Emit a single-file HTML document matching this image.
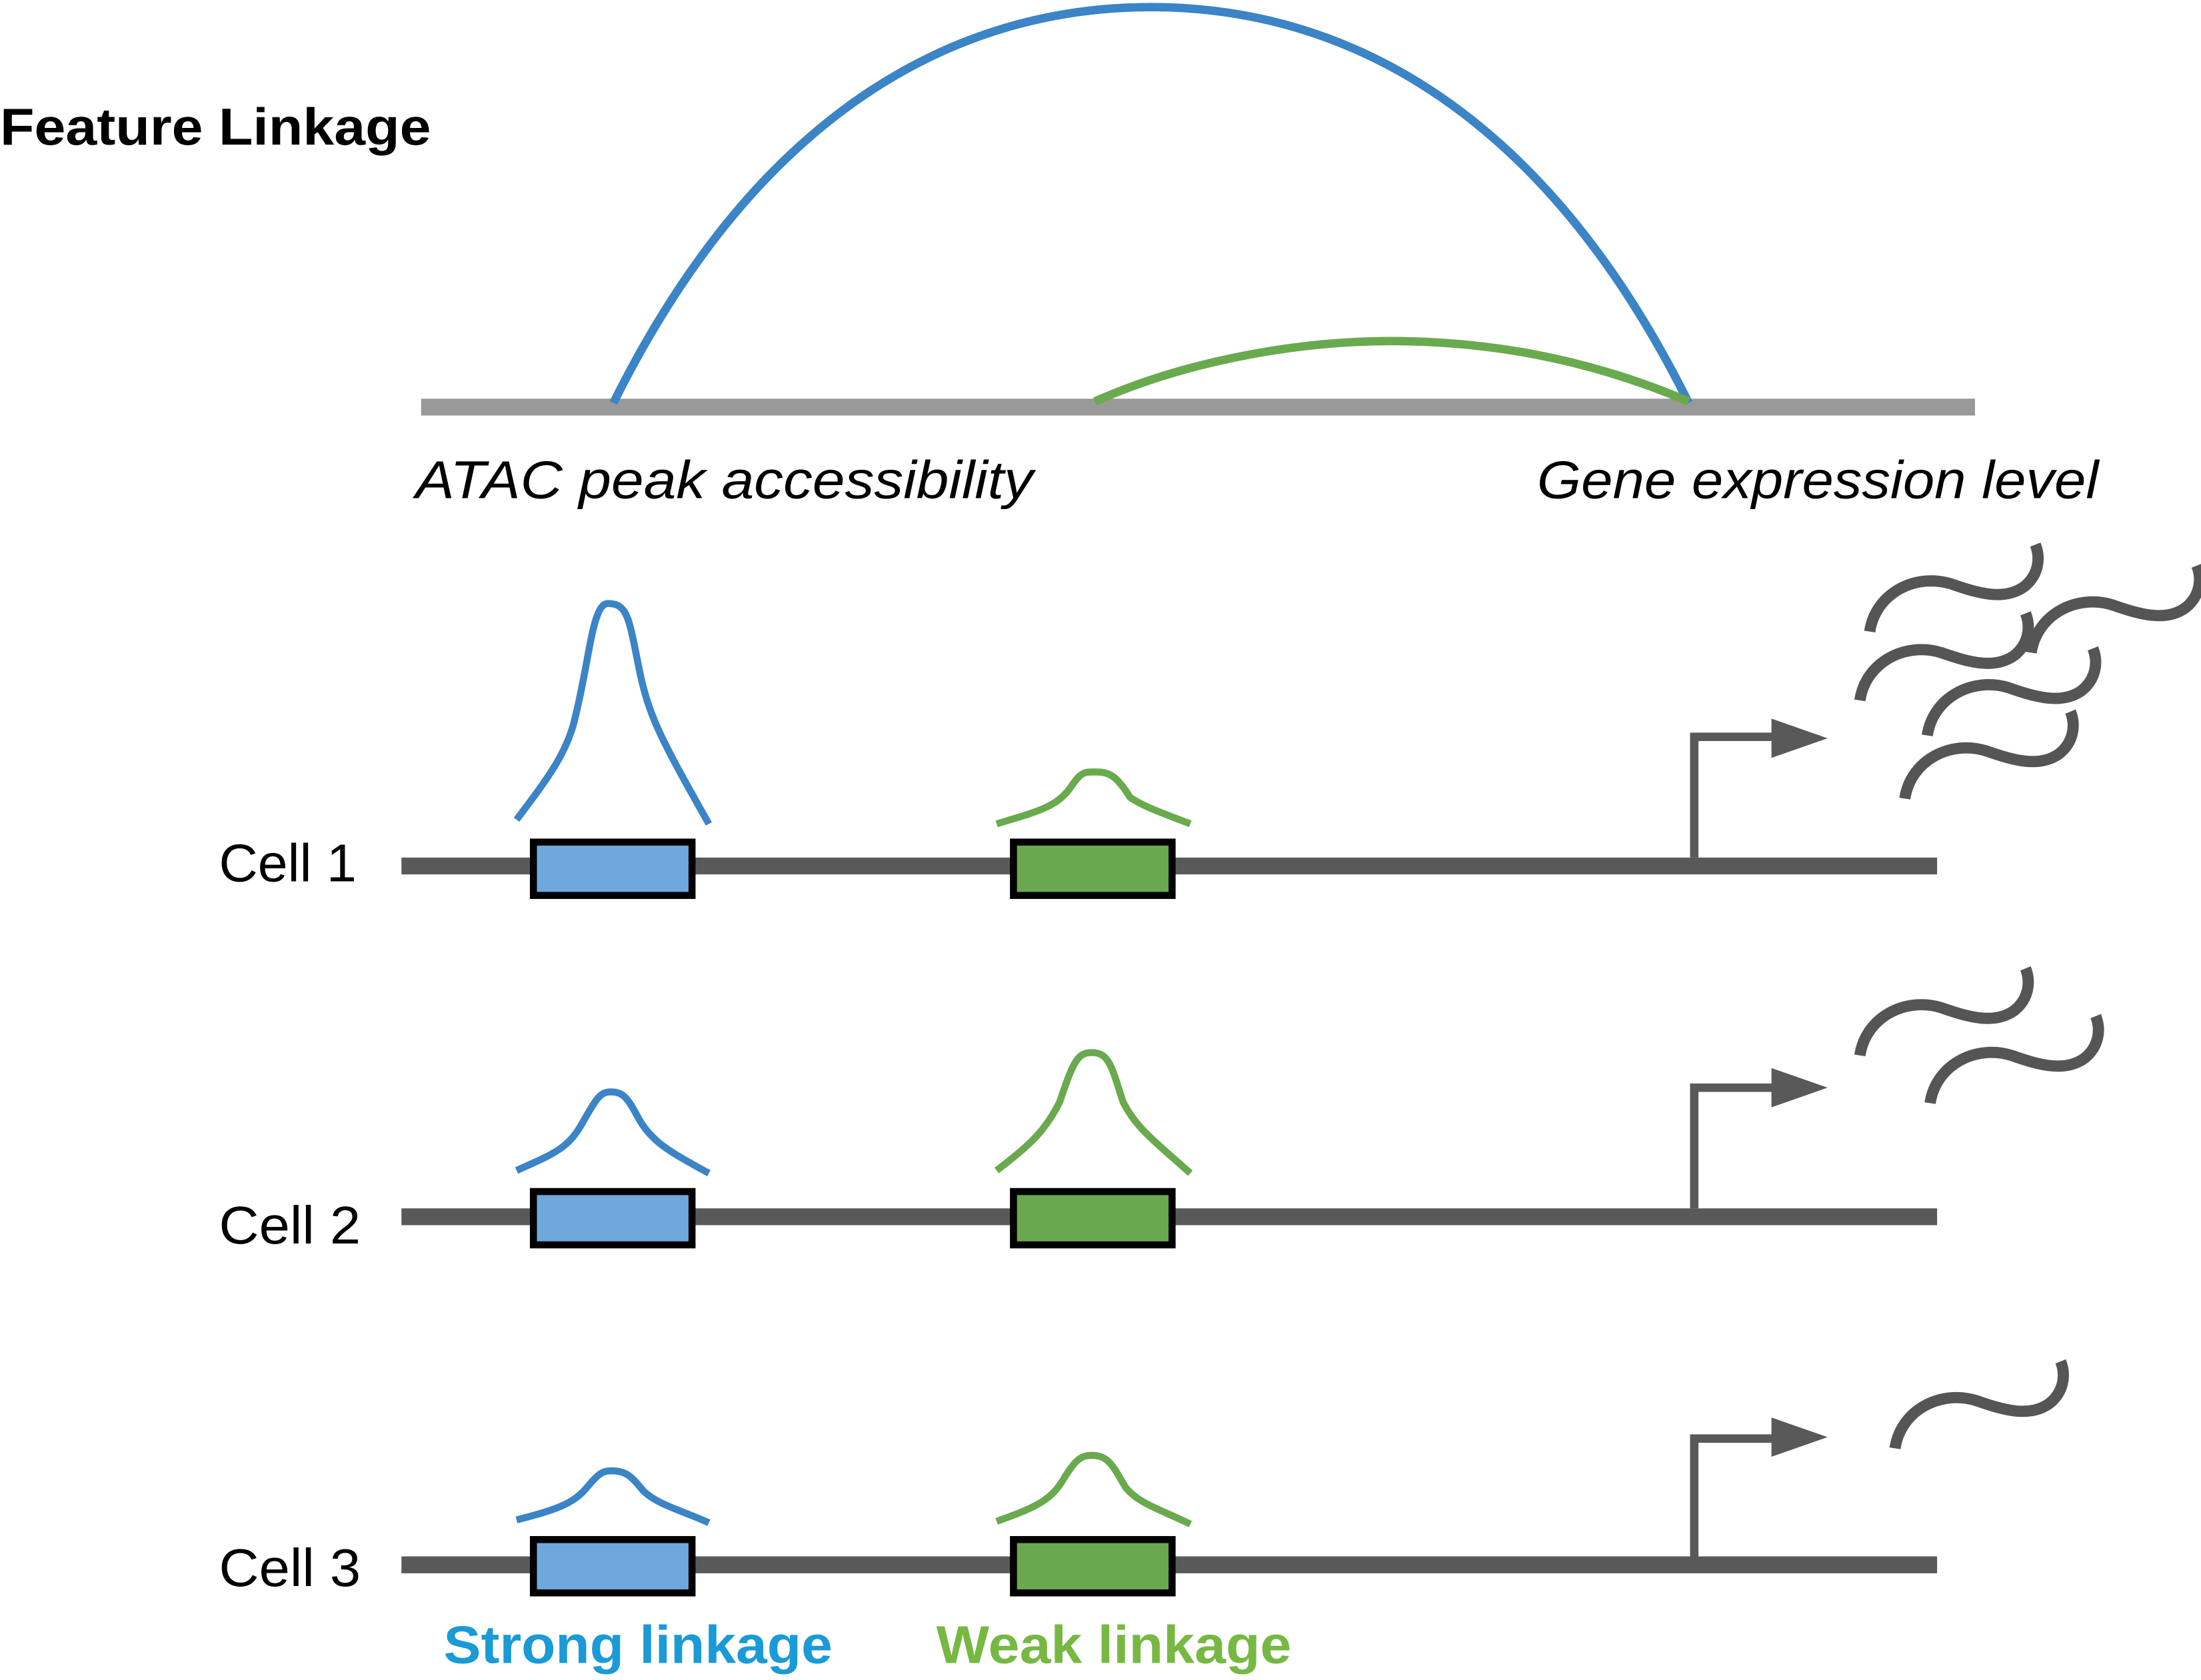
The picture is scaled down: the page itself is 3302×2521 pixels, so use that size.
<!DOCTYPE html>
<html><head><meta charset="utf-8"><style>
html,body{margin:0;padding:0;background:#fff;}
svg{display:block;}
text{font-family:"Liberation Sans",sans-serif;}
</style></head><body>
<svg width="3302" height="2521" viewBox="0 0 1568 1197" xmlns="http://www.w3.org/2000/svg">
<defs>
<path id="sq" d="M0,62 C4,35 32,20 58,28 C78,35 96,40 110,30 C120,22 122,10 118,0" fill="none" stroke="#555" stroke-width="8"/>
</defs>
<text x="0" y="103" font-size="37" font-weight="bold" fill="#000" textLength="307" lengthAdjust="spacingAndGlyphs">Feature Linkage</text>
<line x1="300" y1="290" x2="1407" y2="290" stroke="#999" stroke-width="12"/>
<path d="M437,287 C540,80 680,5 820,5 C960,5 1100,80 1203,287" fill="none" stroke="#3b84c6" stroke-width="6"/>
<path d="M780,286 C850,255 930,243 990,243 C1060,243 1130,255 1203,286" fill="none" stroke="#6aaa4e" stroke-width="6"/>
<text x="296" y="355" font-size="38" font-style="italic" fill="#000" textLength="440" lengthAdjust="spacingAndGlyphs">ATAC peak accessibility</text>
<text x="1095" y="355" font-size="38" font-style="italic" fill="#000" textLength="400" lengthAdjust="spacingAndGlyphs">Gene expression level</text>

<g stroke="#595959" stroke-width="12">
<line x1="286" y1="617" x2="1380" y2="617"/>
<line x1="286" y1="867" x2="1380" y2="867"/>
<line x1="286" y1="1115" x2="1380" y2="1115"/>
</g>
<g font-size="38" fill="#000">
<text x="156" y="628" textLength="98" lengthAdjust="spacingAndGlyphs">Cell 1</text>
<text x="156" y="886" textLength="101" lengthAdjust="spacingAndGlyphs">Cell 2</text>
<text x="156" y="1130" textLength="101" lengthAdjust="spacingAndGlyphs">Cell 3</text>
</g>
<g stroke="#000" stroke-width="5">
<rect x="380" y="600" width="113" height="38" fill="#6fa8dc"/>
<rect x="722" y="600" width="113" height="38" fill="#6aa84f"/>
<rect x="380" y="849" width="113" height="38" fill="#6fa8dc"/>
<rect x="722" y="849" width="113" height="38" fill="#6aa84f"/>
<rect x="380" y="1097" width="113" height="38" fill="#6fa8dc"/>
<rect x="722" y="1097" width="113" height="38" fill="#6aa84f"/>
</g>
<g fill="none" stroke-width="5">
<path d="M368,584 C390,555 405,535 410,510 C420,470 422,430 433,430 C447,430 448,440 455,475 C462,510 470,525 505,587" stroke="#3b84c6"/>
<path d="M710,587 C740,578 752,575 762,562 C770,550 772,550 780,550 C790,550 795,552 805,568 C815,575 830,580 848,587" stroke="#6aaa4e"/>
<path d="M368,834 C395,822 405,818 415,800 C425,782 428,778 435,778 C444,778 447,782 455,797 C465,815 480,822 505,836" stroke="#3b84c6"/>
<path d="M710,834 C735,815 745,805 755,785 C765,755 768,750 778,750 C790,750 792,760 800,785 C810,805 825,815 848,836" stroke="#6aaa4e"/>
<path d="M368,1083 C395,1076 408,1072 418,1060 C427,1049 430,1048 436,1048 C446,1048 450,1052 458,1062 C468,1072 485,1076 505,1085" stroke="#3b84c6"/>
<path d="M710,1084 C735,1075 748,1070 757,1055 C766,1040 770,1037 778,1037 C790,1037 793,1045 802,1060 C812,1072 828,1076 848,1086" stroke="#6aaa4e"/>
</g>
<g stroke="#595959" stroke-width="6" fill="none">
<path d="M1207,611 V525 H1265"/>
<path d="M1207,861 V775 H1265"/>
<path d="M1207,1109 V1025 H1265"/>
</g>
<g fill="#595959">
<polygon points="1262,512 1302,526 1262,540"/>
<polygon points="1262,761 1302,775 1262,789"/>
<polygon points="1262,1010 1302,1024 1262,1038"/>
</g>
<use href="#sq" x="1332" y="388"/>
<use href="#sq" x="1325" y="437"/>
<use href="#sq" x="1447" y="403"/>
<use href="#sq" x="1373" y="462"/>
<use href="#sq" x="1357" y="507"/>
<use href="#sq" x="1325" y="690"/>
<use href="#sq" x="1375" y="724"/>
<use href="#sq" x="1350" y="970"/>
<text x="316" y="1185" font-size="38" font-weight="bold" fill="#1a9ad6" textLength="277" lengthAdjust="spacingAndGlyphs">Strong linkage</text>
<text x="667" y="1185" font-size="38" font-weight="bold" fill="#77b843" textLength="253" lengthAdjust="spacingAndGlyphs">Weak linkage</text>
</svg>
</body></html>
